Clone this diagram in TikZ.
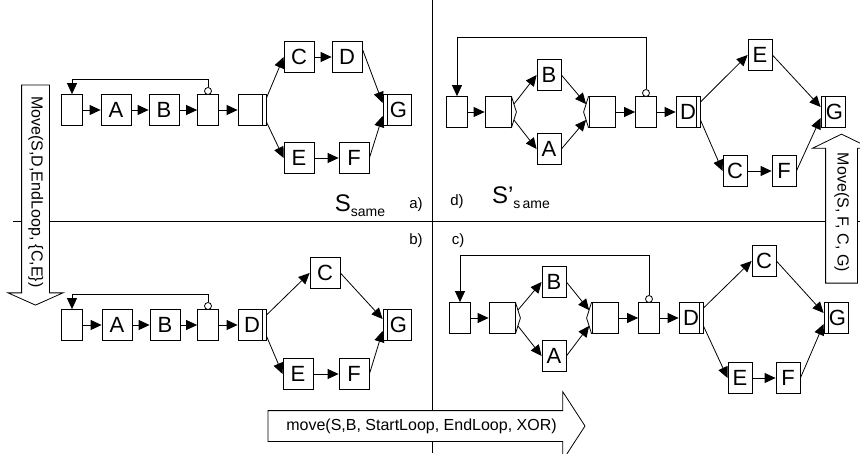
\documentclass[tikz,border=0pt]{standalone}
\usepackage{fontspec}
\setmainfont{Liberation Sans}
\usetikzlibrary{arrows.meta,shapes.arrows}

\begin{document}
\begin{tikzpicture}[
  x=1pt,
  y=-1pt,
  >={Triangle[length=11pt,width=10pt]},
  task/.style={
    draw,
    rectangle,
    fill=white,
    inner sep=0pt,
    minimum width=30pt,
    minimum height=31pt,
    line width=0.8pt,
    font=\fontsize{22}{25}\selectfont
  },
  narrowtask/.style={task, minimum width=24pt},
  loopbox/.style={task, minimum width=21pt},
  xorbox/.style={task, minimum width=26pt},
  andsplit/.style={
    task,
    minimum width=28pt,
    path picture={\draw[line width=0.8pt] ([xshift=-4pt]path picture bounding box.north east) -- ([xshift=-4pt]path picture bounding box.south east);}
  },
  andjoin/.style={
    task,
    minimum width=28pt,
    path picture={\draw[line width=0.8pt] ([xshift=4pt]path picture bounding box.north west) -- ([xshift=4pt]path picture bounding box.south west);}
  },
  loopmark/.style={
    draw,
    circle,
    fill=white,
    inner sep=0pt,
    minimum size=7pt,
    line width=0.8pt
  },
  movearrow/.style={
    draw,
    single arrow,
    fill=white,
    line width=0.8pt,
    single arrow head indent=0pt,
    text height=11.5pt,
    text depth=3.5pt,
    inner xsep=2pt,
    font=\fontsize{16}{19}\selectfont
  },
  caption/.style={inner sep=0pt, font=\fontsize{15}{18}\selectfont},
  arrow/.style={->, line width=0.8pt},
  divider/.style={line width=0.8pt}
]
\useasboundingbox (0,0) rectangle (860,453);

\coordinate (hleft) at (13,221.5);
\coordinate (hright) at (860,221.5);
\coordinate (vtop) at (432,0);
\coordinate (vbottom) at (432,453);
\draw[divider] (hleft) -- (hright);
\draw[divider] (vtop) -- (vbottom);

\node[loopbox] (a1) at (72,110) {};
\node[task] (aA) at (116,110) {A};
\node[task] (aB) at (164,110) {B};
\node[loopbox] (a2) at (208,110) {};
\node[loopmark] (am) at (208,91) {};
\node[andsplit] (as) at (252,110) {};
\node[task] (aC) at (299,57) {C};
\node[task] (aD) at (347,57) {D};
\node[task] (aE) at (299,158) {E};
\node[task] (aF) at (354,158) {F};
\node[andjoin] (aG) at (397,110) {\hspace{3pt}G};

\node[loopbox] (b1) at (72,325) {};
\node[task] (bA) at (117,325) {A};
\node[task] (bB) at (165,325) {B};
\node[loopbox] (b2) at (208,325) {};
\node[loopmark] (bm) at (208,306) {};
\node[andsplit] (bD) at (252,325) {D\hspace{3pt}};
\node[task] (bC) at (325,273) {C};
\node[task] (bE) at (298,374) {E};
\node[task] (bF) at (354,374) {F};
\node[andjoin] (bG) at (397,325) {\hspace{3pt}G};

\node[loopbox] (d1) at (457,112) {};
\node[xorbox] (dx1) at (498,112) {};
\node[narrowtask] (dB) at (549,75) {B};
\node[narrowtask] (dA) at (549,149) {A};
\node[xorbox] (dx2) at (602,112) {};
\node[loopbox] (d2) at (646,112) {};
\node[loopmark] (dm) at (646,93) {};
\node[andsplit, minimum width=24pt] (dD) at (688,112) {D\hspace{3pt}};
\node[narrowtask] (dE) at (760,55) {E};
\node[narrowtask] (dC) at (735,171) {C};
\node[narrowtask] (dF) at (784,171) {F};
\node[andjoin, minimum width=24pt] (dG) at (833,112) {\hspace{3pt}G};

\node[loopbox] (c1) at (460,318) {};
\node[xorbox] (cx1) at (502,318) {};
\node[narrowtask] (cB) at (554,282) {B};
\node[narrowtask] (cA) at (554,356) {A};
\node[xorbox] (cx2) at (605,318) {};
\node[loopbox] (c2) at (649,318) {};
\node[loopmark] (cm) at (649,299) {};
\node[andsplit, minimum width=24pt] (cD) at (691,318) {D\hspace{3pt}};
\node[narrowtask] (cC) at (764,261) {C};
\node[narrowtask] (cE) at (740,378) {E};
\node[narrowtask] (cF) at (788,378) {F};
\node[andjoin, minimum width=24pt] (cG) at (836,318) {\hspace{3pt}G};

\foreach \n in {dx1,cx1}
  \draw[line width=0.8pt] (\n.north east) -- ([xshift=5pt]\n.east) -- (\n.south east);
\foreach \n in {dx2,cx2}
  \draw[line width=0.8pt] (\n.north west) -- ([xshift=-5pt]\n.west) -- (\n.south west);

\draw[arrow] (a1) -- (aA);
\draw[arrow] (aA) -- (aB);
\draw[arrow] (aB) -- (a2);
\draw[arrow] (a2) -- (as);
\draw[arrow] ([yshift=-4pt]as.north east) -- (aC.west);
\draw[arrow] ([yshift=4pt]as.south east) -- (aE.west);
\draw[arrow] (aC) -- (aD);
\draw[arrow] (aE) -- (aF);
\draw[arrow] ([yshift=-8pt]aD.north east) -- ([yshift=7pt]aG.west);
\draw[arrow] (aF.east) -- ([yshift=-6pt]aG.west);
\draw[arrow] (am.north) -- ++(0,-8) -| (a1.north);

\draw[arrow] (b1) -- (bA);
\draw[arrow] (bA) -- (bB);
\draw[arrow] (bB) -- (b2);
\draw[arrow] (b2) -- (bD);
\draw[arrow] ([yshift=-6pt]bD.north east) -- (bC.west);
\draw[arrow] ([yshift=5pt]bD.south east) -- (bE.west);
\draw[arrow] (bC.east) -- ([yshift=6pt]bG.west);
\draw[arrow] (bE) -- (bF);
\draw[arrow] (bF.east) -- ([yshift=-6pt]bG.west);
\draw[arrow] (bm.north) -- ++(0,-8) -| (b1.north);

\draw[arrow] (d1) -- (dx1);
\draw[arrow] ([xshift=2.5pt,yshift=-8pt]dx1.north east) -- (dB.west);
\draw[arrow] ([xshift=2.5pt,yshift=8pt]dx1.south east) -- (dA.west);
\draw[arrow] (dB.east) -- ([xshift=-2.5pt,yshift=-8pt]dx2.north west);
\draw[arrow] (dA.east) -- ([xshift=-2.5pt,yshift=8pt]dx2.south west);
\draw[arrow] (dx2) -- (d2);
\draw[arrow] (d2) -- (dD);
\draw[arrow] ([yshift=-6pt]dD.north east) -- (dE.west);
\draw[arrow] ([yshift=8pt]dD.south east) -- (dC.west);
\draw[arrow] (dE.east) -- ([yshift=5pt]dG.west);
\draw[arrow] (dC) -- (dF);
\draw[arrow] (dF.east) -- ([yshift=-6pt]dG.west);
\draw[arrow] (dm.north) -- ++(0,-52) -| (d1.north);

\draw[arrow] (c1) -- (cx1);
\draw[arrow] ([xshift=2.5pt,yshift=-8pt]cx1.north east) -- (cB.west);
\draw[arrow] ([xshift=2.5pt,yshift=8pt]cx1.south east) -- (cA.west);
\draw[arrow] (cB.east) -- ([xshift=-2.5pt,yshift=-8pt]cx2.north west);
\draw[arrow] (cA.east) -- ([xshift=-2.5pt,yshift=8pt]cx2.south west);
\draw[arrow] (cx2) -- (c2);
\draw[arrow] (c2) -- (cD);
\draw[arrow] ([yshift=-6pt]cD.north east) -- (cC.west);
\draw[arrow] ([yshift=8pt]cD.south east) -- (cE.west);
\draw[arrow] (cC.east) -- ([yshift=5pt]cG.west);
\draw[arrow] (cE) -- (cF);
\draw[arrow] (cF.east) -- ([yshift=-6pt]cG.west);
\draw[arrow] (cm.north) -- ++(0,-40) -| (c1.north);

\node[caption] (capa) at (416,205) {a)};
\node[caption] (capb) at (416,241) {b)};
\node[caption] (capc) at (458,241) {c)};
\node[caption] (capd) at (457,202) {d)};
\node[inner sep=0pt, font=\fontsize{24}{28}\selectfont] (same) at (360,206) {S\raisebox{-5pt}{\fontsize{14}{16}\selectfont same}};
\node[inner sep=0pt, font=\fontsize{24}{28}\selectfont] (samep) at (521,198) {S’\raisebox{-5pt}{\fontsize{14}{16}\selectfont s\,ame}};

\node[movearrow, rotate=-90, minimum height=220pt, inner ysep=6pt,
  single arrow head extend=13.5pt, single arrow tip angle=132] (moveD) at (35.5,192) {Move(S,D,EndLoop, \{C,E\})};
\node[movearrow, rotate=-90, shape border rotate=180, minimum height=149pt, inner ysep=8pt,
  single arrow head extend=13pt, single arrow tip angle=128] (moveF) at (841.5,212.5) {Move(S, F, C, G)};
\node[movearrow, minimum height=317pt, inner ysep=7.5pt,
  single arrow head extend=19pt, single arrow tip angle=114] (moveB) at (421.5,426) {move(S,B, StartLoop, EndLoop, XOR)};

\end{tikzpicture}
\end{document}
